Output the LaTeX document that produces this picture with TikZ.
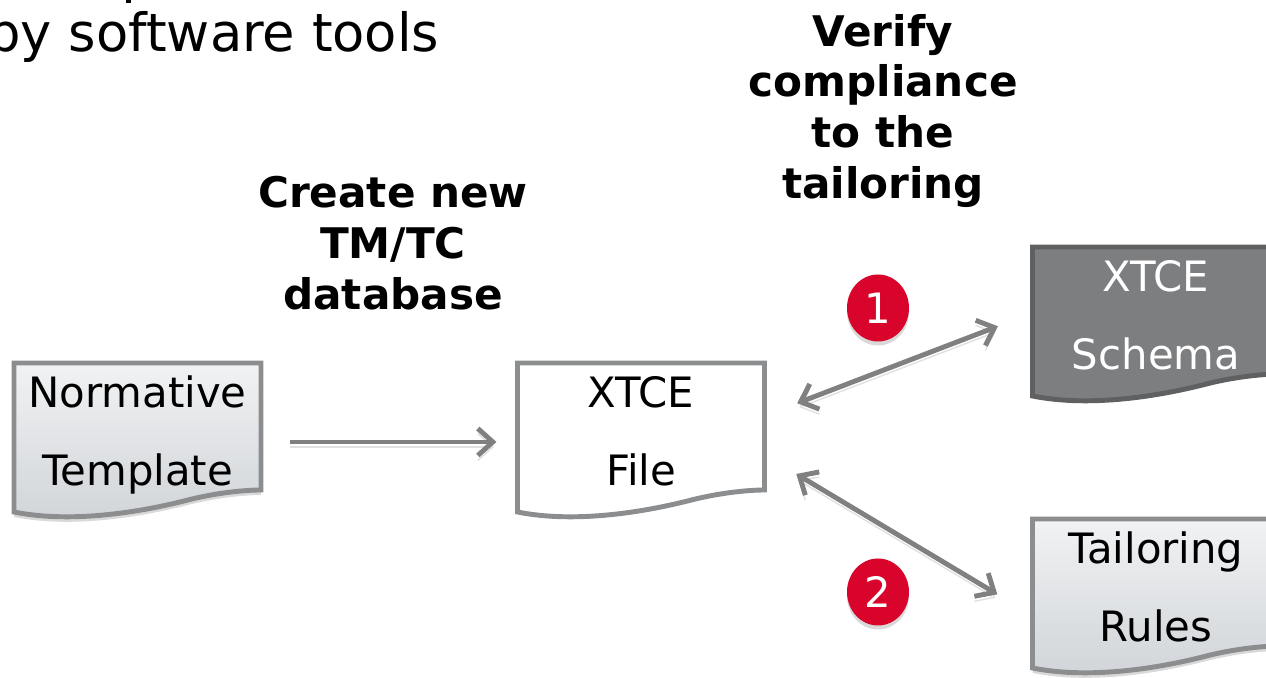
\documentclass[tikz,border=0pt]{standalone}
\usepackage{fontspec}
\setmainfont{DejaVu Sans}
\usetikzlibrary{arrows.meta,backgrounds,calc,shapes.geometric}
\definecolor{docline}{HTML}{8C8D8F}
\definecolor{docdark}{HTML}{5F6062}
\definecolor{docfill}{HTML}{7D7E80}
\definecolor{docpale}{HTML}{D0D4D8}
\definecolor{arrowgrey}{HTML}{808080}
\definecolor{badgered}{HTML}{D9042B}
\tikzset{
    >={Straight Barb[length=0.15cm,width=0.27cm]},
    docnode/.style={minimum width=2.47cm,minimum height=1.58cm,outer sep=0pt,align=center,font=\fontsize{11.9}{22.2}\selectfont},
    docshadow/.style={preaction={fill=black,opacity=0.15,transform canvas={yshift=-0.05cm}}},
    paledoc/.style={draw=docline,line width=1.4pt,top color=docpale!30!white,bottom color=docpale,docshadow},
    plaindoc/.style={draw=docline,line width=1.4pt,fill=white},
    darkdoc/.style={draw=docdark,line width=1.4pt,fill=docfill},
    linkarrow/.style={draw=arrowgrey,line width=1.4pt,preaction={draw=black,opacity=0.12,transform canvas={yshift=-0.05cm}}},
    badge/.style={ellipse,fill=badgered,text=white,inner sep=0pt,minimum width=0.62cm,minimum height=0.67cm,font=\fontsize{11.9}{14}\selectfont,preaction={fill=black,opacity=0.15,transform canvas={yshift=-0.04cm}}},
    steplabel/.style={align=center,font=\fontsize{12}{14.5}\selectfont\bfseries}
}
\newcommand{\docoutline}[2]{%
    \begin{pgfonlayer}{background}
        \path[#2] (#1.north west) -- (#1.north east) -- ($(#1.south east)+(0,0.31)$)
            .. controls ($(#1.south east)+(-0.17,0.31)$) and ($(#1.south east)+(-0.47,0.28)$) .. ($(#1.south east)+(-0.77,0.20)$)
            .. controls ($(#1.south west)+(1.3,0.10)$) and ($(#1.south west)+(0.6,-0.03)$) .. ($(#1.south west)+(0,0.09)$) -- cycle;
    \end{pgfonlayer}}
\begin{document}
\begin{tikzpicture}
    \useasboundingbox (0,0) rectangle (12.66,6.78);
    \fill (1.26,6.78) rectangle (1.31,6.75);
    \node[anchor=base east,inner sep=0pt,font=\fontsize{15}{18}\selectfont] (title) at (4.40,6.26) {by software tools};
    \node[steplabel] (create) at (3.93,4.35) {Create new\\TM/TC\\database};
    \node[steplabel] (verify) at (8.83,5.67) {Verify\\compliance\\to the\\tailoring};
    \node[docnode] (normative) at (1.375,2.36) {Normative\\Template\\[-16pt]};
    \node[docnode] (xtcefile) at (6.41,2.36) {XTCE\\File\\[-16pt]};
    \node[docnode,text=white] (schema) at (11.56,3.52) {XTCE\\Schema\\[-16pt]};
    \node[docnode] (rules) at (11.56,0.80) {Tailoring\\Rules\\[-16pt]};
    \docoutline{normative}{paledoc}
    \docoutline{xtcefile}{plaindoc}
    \docoutline{schema}{darkdoc}
    \docoutline{rules}{paledoc}
    \node[badge] (one) at (8.78,3.70) {1};
    \node[badge] (two) at (8.78,0.86) {2};
    \draw[linkarrow,->,shorten <=0.29cm,shorten >=0.21cm] (normative) -- (xtcefile);
    \draw[linkarrow,<->,shorten <=0.35cm,shorten >=0.37cm] (xtcefile.12.4) -- (schema.174.9);
    \draw[linkarrow,<->,shorten <=0.37cm,shorten >=0.41cm] (xtcefile.-6.5) -- (rules.188.3);
\end{tikzpicture}
\end{document}
